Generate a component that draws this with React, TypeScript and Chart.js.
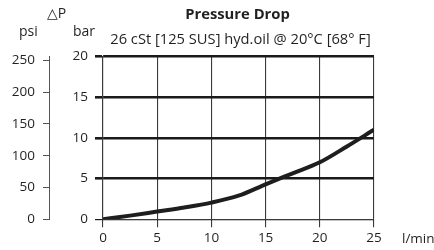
import React, { useEffect, useRef } from "react";
import { Chart, registerables } from "chart.js";

Chart.register(...registerables);

const flowLpm = [0, 2.5, 5, 7.5, 10, 12.5, 15, 17.5, 20, 22.5, 25];
const dropBar = [0, 0.45, 0.95, 1.45, 2.05, 2.9, 4.3, 5.65, 7.0, 8.95, 11.0];
const barTicks = [0, 5, 10, 15, 20];
const psiTicks = [0, 50, 100, 150, 200, 250];
const flowTicks = [0, 5, 10, 15, 20, 25];

const titleText = "Pressure Drop";
const subtitleText = "26 cSt [125 SUS] hyd.oil @ 20°C [68° F]";
const deltaLabel = "△P";
const psiLabel = "psi";
const barLabel = "bar";
const flowUnit = "l/min";

const FONT = "'Open Sans', 'DejaVu Sans', sans-serif";
const INK = "#231f20";

const textPlugin = {
  id: "texts",
  afterDraw(chart: any) {
    const { ctx, chartArea } = chart;
    const cx = (chartArea.left + chartArea.right) / 2;
    ctx.save();
    ctx.fillStyle = INK;
    ctx.textBaseline = "middle";
    ctx.textAlign = "center";
    ctx.font = `bold 14.8px ${FONT}`;
    ctx.fillText(titleText, cx - 1, 15);
    ctx.font = `14.7px ${FONT}`;
    ctx.fillText(subtitleText, cx + 2, 40);
    ctx.textAlign = "left";
    ctx.font = `14px ${FONT}`;
    ctx.fillText(deltaLabel, 47, 14);
    ctx.fillText(psiLabel, 19, 32);
    ctx.fillText(barLabel, 73, 32);
    ctx.font = `13.5px ${FONT}`;
    ctx.fillText(flowUnit, chartArea.right + 28, 239);
    ctx.restore();
  },
};

export default function App() {
  const ref = useRef<HTMLCanvasElement | null>(null);
  useEffect(() => {
    if (!ref.current) return;
    Chart.defaults.font.family = FONT;
    Chart.defaults.font.size = 13.5;
    Chart.defaults.color = INK;
    const chart = new Chart(ref.current, {
      type: "line",
      data: {
        datasets: [
          {
            data: flowLpm.map((x, i) => ({ x, y: dropBar[i] })),
            borderColor: "#1e1e1e",
            borderWidth: 4,
            pointRadius: 0,
            cubicInterpolationMode: "monotone",
            fill: false,
            yAxisID: "y",
          },
        ],
      },
      options: {
        animation: false,
        responsive: true,
        maintainAspectRatio: false,
        layout: { padding: { left: 0, right: 60, top: 56.5, bottom: 0 } },
        plugins: { legend: { display: false }, tooltip: { enabled: false }, title: { display: false } },
        scales: {
          x: {
            type: "linear",
            min: 0,
            max: 25,
            afterBuildTicks: (s: any) => { s.ticks = flowTicks.map((v) => ({ value: v })); },
            afterFit: (s: any) => { s.height = 30.7; },
            ticks: { padding: 3, color: INK, font: { size: 13.5 } },
            grid: { color: "#3a3a3a", lineWidth: 1.1, tickLength: 8 },
            border: { display: true, color: "#3a3a3a", width: 1.1 },
          },
          y: {
            type: "linear",
            position: "left",
            min: 0,
            max: 20,
            weight: 1,
            afterBuildTicks: (s: any) => { s.ticks = barTicks.map((v) => ({ value: v })); },
            afterFit: (s: any) => { s.width = 54; },
            ticks: { padding: 7, color: INK, font: { size: 13.5 } },
            grid: {
              color: "#1a1a1a",
              lineWidth: (c: any) => (c.tick && c.tick.value === 0 ? 1.2 : 2.6),
              tickLength: 8,
            },
            border: { display: true, color: "#3a3a3a", width: 1.1 },
          },
          psi: {
            type: "linear",
            position: "left",
            min: 0,
            max: 256,
            weight: 2,
            afterBuildTicks: (s: any) => { s.ticks = psiTicks.map((v) => ({ value: v })); },
            afterFit: (s: any) => { s.width = 49; },
            ticks: { padding: 8, color: INK, font: { size: 13.5 } },
            grid: { drawOnChartArea: false, color: "#555", lineWidth: 1, tickLength: 6 },
            border: { display: true, color: "#555", width: 1 },
          },
        },
      },
      plugins: [textPlugin],
    } as any);
    return () => chart.destroy();
  }, []);
  return (
    <div style={{ position: "fixed", left: 0, top: 0, width: 434, height: 250, background: "#fff" }}>
      <canvas ref={ref} />
    </div>
  );
}
